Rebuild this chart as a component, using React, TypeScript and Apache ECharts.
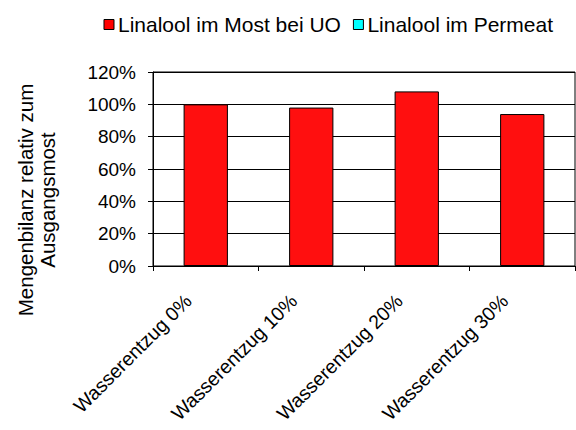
import React, { useEffect, useRef } from "react";
import * as echarts from "echarts";

const categories = ["Wasserentzug 0%", "Wasserentzug 10%", "Wasserentzug 20%", "Wasserentzug 30%"];
const mostValues = [100, 98, 108, 94];
const permeatValues = [0, 0, 0, 0];
const seriesNames = ["Linalool im Most bei UO", "Linalool im Permeat"];
const yTitle = "Mengenbilanz relativ zum\nAusgangsmost";

const FONT = "'Liberation Sans', Arial, sans-serif";

export default function App() {
  const ref = useRef<HTMLDivElement>(null);
  useEffect(() => {
    if (!ref.current) return;
    const chart = echarts.init(ref.current, null, { renderer: "svg" });
    chart.setOption({
      animation: false,
      backgroundColor: "#fff",
      textStyle: { fontFamily: FONT },
      legend: {
        right: 18,
        top: 9,
        itemWidth: 10,
        itemHeight: 10,
        itemGap: 12,
        icon: "rect",
        textStyle: { fontSize: 21, color: "#000", fontFamily: FONT, padding: [0, 0, 0, -1] },
        data: [
          { name: seriesNames[0], itemStyle: { color: "#ff0000", borderColor: "#000", borderWidth: 1 } },
          { name: seriesNames[1], itemStyle: { color: "#00ffff", borderColor: "#000", borderWidth: 1 } },
        ],
      },
      graphic: [
        {
          type: "text",
          x: 36,
          y: 200,
          rotation: Math.PI / 2,
          style: {
            text: yTitle,
            fontSize: 20.5,
            lineHeight: 22,
            fontFamily: FONT,
            fill: "#000",
            align: "center",
            verticalAlign: "middle",
          },
        },
      ],
      grid: {
        left: 153,
        right: 1,
        top: 72,
        bottom: 164,
        show: true,
        borderColor: "#000",
        borderWidth: 1,
      },
      xAxis: {
        type: "category",
        data: categories,
        axisLine: { lineStyle: { color: "#000", width: 1 } },
        axisTick: { show: true, alignWithLabel: false, length: 5, lineStyle: { color: "#000" } },
        axisLabel: {
          rotate: 45,
          fontSize: 19.5,
          color: "#000",
          fontFamily: FONT,
          margin: 14,
          interval: 0,
          padding: [0, 25, 0, 0],
        },
      },
      yAxis: {
        type: "value",
        min: 0,
        max: 120,
        interval: 20,
        axisLine: { show: true, lineStyle: { color: "#000", width: 1 } },
        axisTick: { show: true, length: 5, lineStyle: { color: "#000" } },
        axisLabel: { formatter: "{value}%", fontSize: 19, color: "#000", fontFamily: FONT, margin: 17 },
        splitLine: { show: true, lineStyle: { color: "#000", width: 1 } },
      },
      series: [
        {
          name: seriesNames[0],
          type: "bar",
          stack: "total",
          data: mostValues,
          barWidth: "42%",
          itemStyle: {
            color: "#ff0f0f",
            borderColor: "#000",
            borderWidth: 1,
          },
        },
        {
          name: seriesNames[1],
          type: "bar",
          stack: "total",
          data: permeatValues,
          barWidth: "42%",
          itemStyle: { color: "#00ffff", borderColor: "#000", borderWidth: 0 },
        },
      ],
    });
    return () => chart.dispose();
  }, []);
  return <div ref={ref} style={{ width: 576, height: 430, position: "absolute", left: 0, top: 0 }} />;
}
